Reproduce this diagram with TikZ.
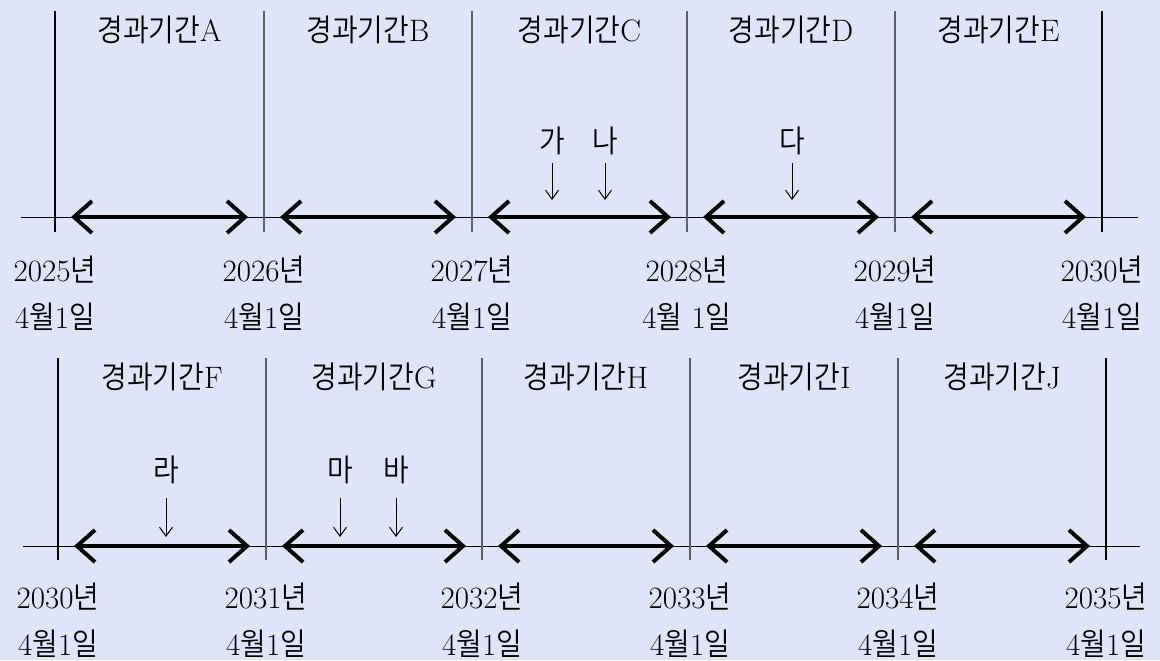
\documentclass[tikz,border=0pt]{standalone}
\usepackage{fontspec}
\IfFontExistsTF{Noto Sans CJK KR DemiLight}
  {\newfontfamily\krfont[FakeStretch=0.9]{Noto Sans CJK KR DemiLight}}
  {\newfontfamily\krfont[FakeStretch=0.9]{Noto Sans CJK KR}}
\newcommand\hg[1]{{\krfont #1}}
\usetikzlibrary{arrows.meta}

\definecolor{paper}{RGB}{224,228,248}
\definecolor{divider}{RGB}{95,95,105}

\tikzset{
  span/.style={line width=2pt,
    {Straight Barb[length=9pt,width=16pt]}-{Straight Barb[length=9pt,width=16pt]},
    shorten <=8pt, shorten >=8pt},
  pointer/.style={line width=0.5pt, -{Straight Barb[length=4.5pt,width=6.5pt]}},
  rule/.style={line width=0.6pt},
  period/.style={inner sep=0pt},
  datelabel/.style={align=center, inner sep=0pt, font=\fontsize{15.5}{23.5}\selectfont},
  tag/.style={inner sep=0pt}
}

\begin{document}
\begin{tikzpicture}[x=0.5pt, y=-0.5pt, font=\fontsize{15.5}{18}\selectfont]
    \fill[paper] (0,0) rectangle (1160,660);
    % upper time line
    \coordinate (t0) at (55,217);
    \coordinate (t1) at (264,217);
    \coordinate (t2) at (472,217);
    \coordinate (t3) at (687,217);
    \coordinate (t4) at (895,217);
    \coordinate (t5) at (1102,217);
    \draw[line width=0.5pt] (21,217) -- (1138,217);
    \draw[rule] (55,11) -- (55,232);
    \draw[rule, divider] (264,11) -- (264,232);
    \draw[rule, divider] (472,11) -- (472,232);
    \draw[rule, divider] (687,11) -- (687,232);
    \draw[rule, divider] (895,11) -- (895,232);
    \draw[rule] (1102,11) -- (1102,232);
    \draw[span] (t0) -- (t1);
    \draw[span] (t1) -- (t2);
    \draw[span] (t2) -- (t3);
    \draw[span] (t3) -- (t4);
    \draw[span] (t4) -- (t5);
    \node[period] (pA) at (159.5,30) {\hg{경과기간}A};
    \node[period] (pB) at (368,30) {\hg{경과기간}B};
    \node[period] (pC) at (579.5,30) {\hg{경과기간}C};
    \node[period] (pD) at (791,30) {\hg{경과기간}D};
    \node[period] (pE) at (998.5,30) {\hg{경과기간}E};
    \node[datelabel] (d0) at (55,293) {2025\hg{년}\\4\hg{월}1\hg{일}};
    \node[datelabel] (d1) at (264,293) {2026\hg{년}\\4\hg{월}1\hg{일}};
    \node[datelabel] (d2) at (472,293) {2027\hg{년}\\4\hg{월}1\hg{일}};
    \node[datelabel] (d3) at (687,293) {2028\hg{년}\\4\hg{월} 1\hg{일}};
    \node[datelabel] (d4) at (895,293) {2029\hg{년}\\4\hg{월}1\hg{일}};
    \node[datelabel] (d5) at (1102,293) {2030\hg{년}\\4\hg{월}1\hg{일}};
    % events in C and D
    \node[tag] (ga) at (552,141) {\hg{가}};
    \node[tag] (na) at (605,141) {\hg{나}};
    \node[tag] (da) at (792,141) {\hg{다}};
    \coordinate (gaend) at (552,200);
    \coordinate (naend) at (605,200);
    \coordinate (daend) at (792,200);
    \draw[pointer] (552,163) -- (gaend);
    \draw[pointer] (605,163) -- (naend);
    \draw[pointer] (792,163) -- (daend);
    % lower time line
    \coordinate (b0) at (58,546);
    \coordinate (b1) at (266,546);
    \coordinate (b2) at (482,546);
    \coordinate (b3) at (690,546);
    \coordinate (b4) at (898,546);
    \coordinate (b5) at (1106,546);
    \draw[line width=0.5pt] (23,546) -- (1140,546);
    \draw[rule] (58,358) -- (58,560);
    \draw[rule, divider] (266,358) -- (266,560);
    \draw[rule, divider] (482,358) -- (482,560);
    \draw[rule, divider] (690,358) -- (690,560);
    \draw[rule, divider] (898,358) -- (898,560);
    \draw[rule] (1106,358) -- (1106,560);
    \draw[span] (b0) -- (b1);
    \draw[span] (b1) -- (b2);
    \draw[span] (b2) -- (b3);
    \draw[span] (b3) -- (b4);
    \draw[span] (b4) -- (b5);
    \node[period] (pF) at (162,377) {\hg{경과기간}F};
    \node[period] (pG) at (374,377) {\hg{경과기간}G};
    \node[period] (pH) at (586,377) {\hg{경과기간}H};
    \node[period] (pI) at (794,377) {\hg{경과기간}I};
    \node[period] (pJ) at (1002,377) {\hg{경과기간}J};
    \node[datelabel] (e0) at (58,620) {2030\hg{년}\\4\hg{월}1\hg{일}};
    \node[datelabel] (e1) at (266,620) {2031\hg{년}\\4\hg{월}1\hg{일}};
    \node[datelabel] (e2) at (482,620) {2032\hg{년}\\4\hg{월}1\hg{일}};
    \node[datelabel] (e3) at (690,620) {2033\hg{년}\\4\hg{월}1\hg{일}};
    \node[datelabel] (e4) at (898,620) {2034\hg{년}\\4\hg{월}1\hg{일}};
    \node[datelabel] (e5) at (1106,620) {2035\hg{년}\\4\hg{월}1\hg{일}};
    % events in F and G
    \node[tag] (ra) at (166,470) {\hg{라}};
    \node[tag] (ma) at (340,470) {\hg{마}};
    \node[tag] (ba) at (396,470) {\hg{바}};
    \coordinate (raend) at (166,537);
    \coordinate (maend) at (340,537);
    \coordinate (baend) at (396,537);
    \draw[pointer] (166,498) -- (raend);
    \draw[pointer] (340,498) -- (maend);
    \draw[pointer] (396,498) -- (baend);
\end{tikzpicture}
\end{document}
